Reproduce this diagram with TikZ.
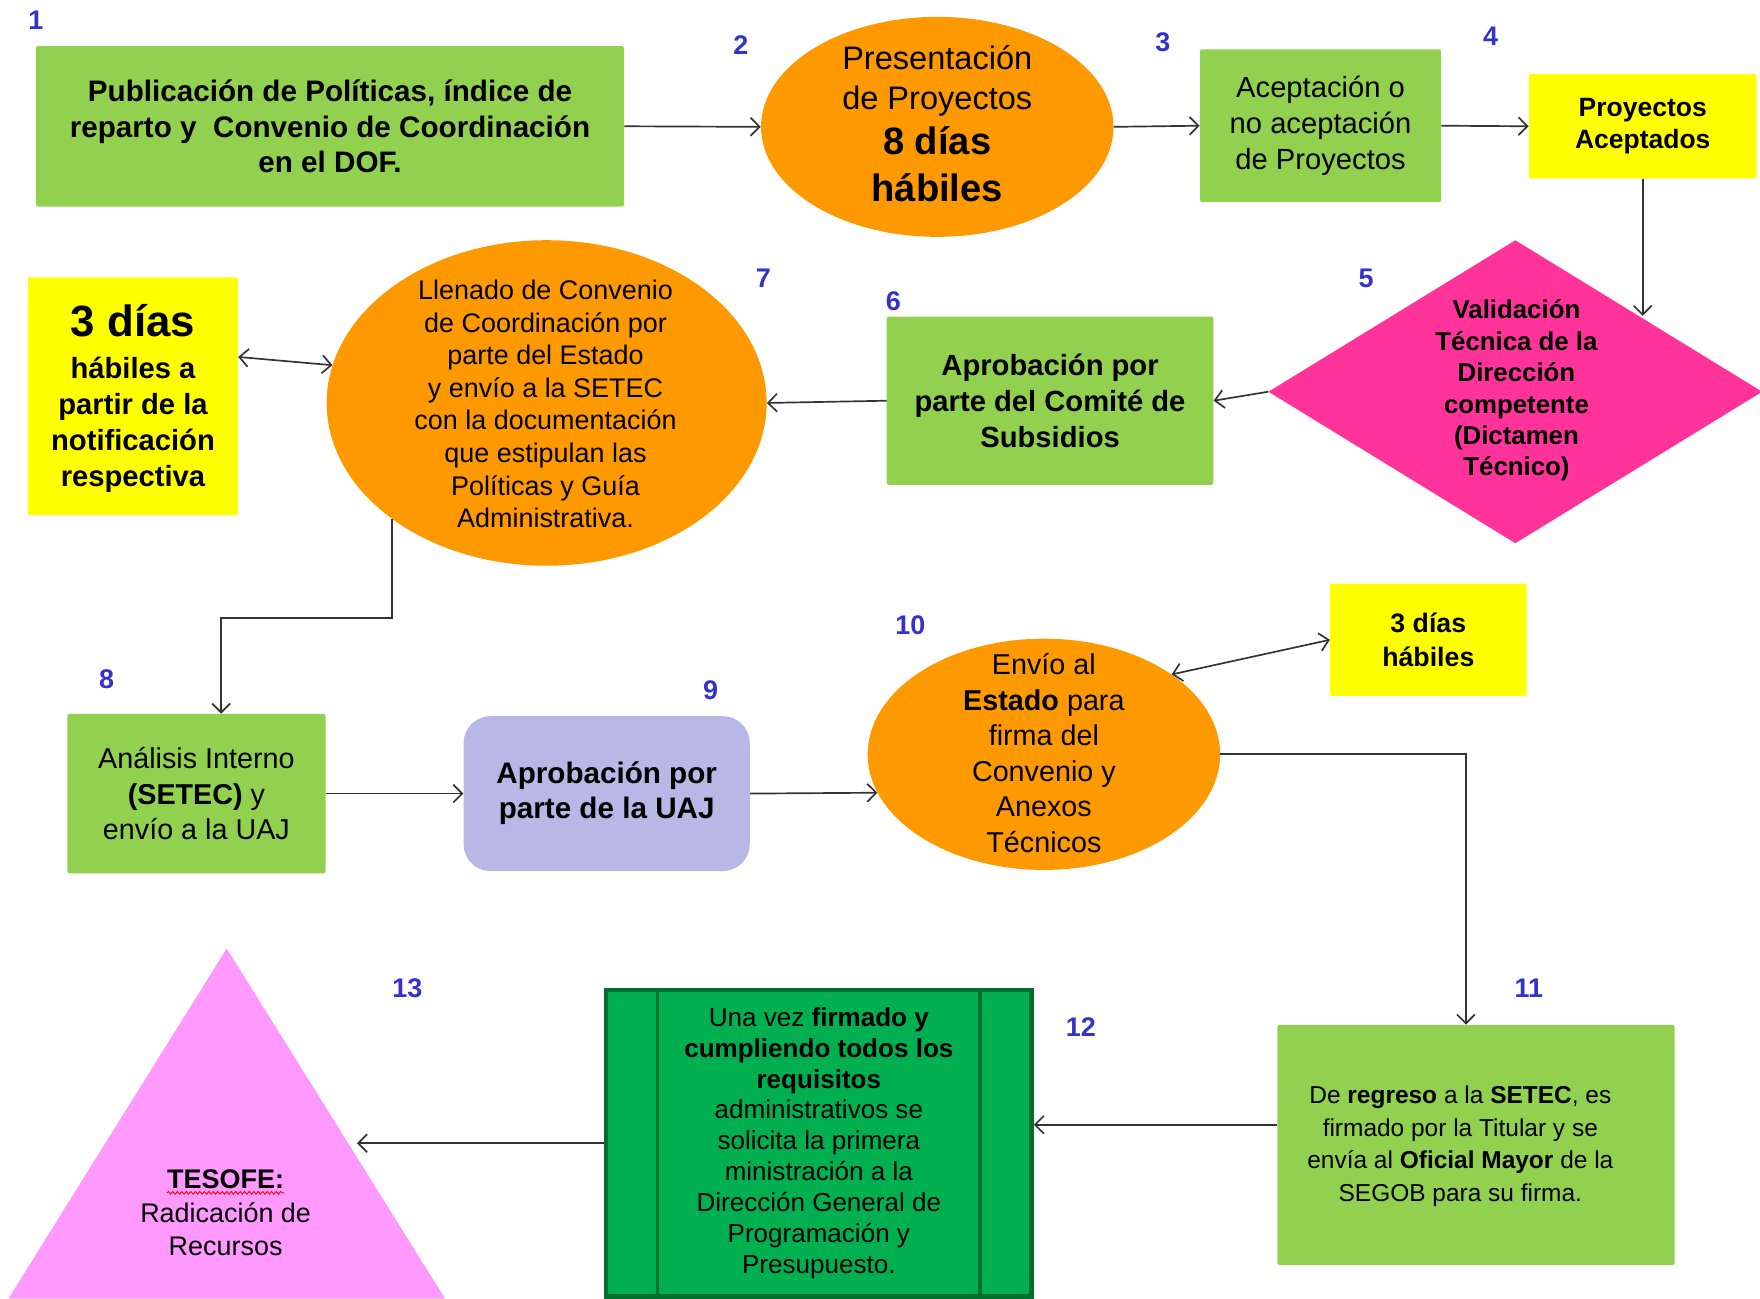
\documentclass[tikz,border=0pt]{standalone}
\usepackage{fontspec}
\setmainfont{Liberation Sans}
\usetikzlibrary{arrows.meta,shapes.geometric,calc,decorations.pathmorphing}
\definecolor{cgreen}{HTML}{92D050}
\definecolor{corange}{HTML}{FF9900}
\definecolor{cyellow}{HTML}{FFFF00}
\definecolor{cmag}{HTML}{FF3399}
\definecolor{clav}{HTML}{B8B8E6}
\definecolor{cpink}{HTML}{FF99FF}
\definecolor{cdkgreen}{HTML}{00B050}
\definecolor{cborder}{HTML}{00702E}
\definecolor{cblue}{HTML}{3333CC}
\definecolor{cline}{HTML}{333333}
\tikzset{
  box/.style={rectangle, fill=cgreen, rounded corners=2pt, inner sep=0pt, align=center, text=black},
  ybox/.style={rectangle, fill=cyellow, rounded corners=1pt, inner sep=0pt, align=center, text=black},
  oval/.style={ellipse, fill=corange, inner sep=0pt},
  txt/.style={inner sep=0pt, align=center, text=black},
  num/.style={inner sep=0pt, text=cblue, font=\fontsize{24}{24}\selectfont\bfseries},
  arr/.style={draw=cline, line width=1.5pt, -{Straight Barb[length=8pt,width=16pt,line width=1.5pt]}},
  dbl/.style={draw=cline, line width=1.5pt, {Straight Barb[length=8pt,width=16pt,line width=1.5pt]}-{Straight Barb[length=8pt,width=16pt,line width=1.5pt]}}
}
\begin{document}
\begin{tikzpicture}[x=1pt,y=-1pt]
\useasboundingbox (0,0) rectangle (1568,1157);
\fill[white] (0,0) rectangle (1568,1157);

% numbers
\node[num] (n1) at (32,18) {1};
\node[num] (n2) at (660,40) {2};
\node[num] (n3) at (1036,38) {3};
\node[num] (n4) at (1328,32) {4};
\node[num] (n5) at (1217,248) {5};
\node[num] (n6) at (796,268) {6};
\node[num] (n7) at (680,248) {7};
\node[num] (n8) at (95,605) {8};
\node[num] (n9) at (633,615) {9};
\node[num] (n10) at (811,557) {10};
\node[num] (n11) at (1362,880) {11};
\node[num] (n12) at (963,915) {12};
\node[num] (n13) at (363,880) {13};

% 1
\node[box, minimum width=524pt, minimum height=143pt, font=\fontsize{26.4}{32}\selectfont\bfseries] (b1) at (294,112.5)
 {Publicación de Políticas, índice de\\reparto y\ \ Convenio de Coordinación\\en el DOF.};
% 2
\node[oval, minimum width=314pt, minimum height=196pt] (e2) at (835,113) {};
\node[txt, font=\fontsize{29}{36}\selectfont] (e2t) at (835,110)
 {Presentación\\de Proyectos\\[4pt]{\fontsize{34}{42}\selectfont\bfseries 8 días}\\[6pt]{\fontsize{34}{42}\selectfont\bfseries hábiles}};
% 3
\node[box, minimum width=215pt, minimum height=136pt, font=\fontsize{26}{32}\selectfont] (b3) at (1176.5,112)
 {Aceptación o\\no aceptación\\de Proyectos};
% 4
\node[ybox, minimum width=203pt, minimum height=93pt, font=\fontsize{23.6}{28}\selectfont\bfseries] (b4) at (1463.5,112.5)
 {Proyectos\\Aceptados};
% 5
\node[diamond, fill=cmag, minimum width=440pt, minimum height=270pt, inner sep=0pt] (d5) at (1350,349) {};
\node[txt, font=\fontsize{23}{28}\selectfont\bfseries] (d5t) at (1351,348)
 {Validación\\Técnica de la\\Dirección\\competente\\(Dictamen\\Técnico)};
% 6
\node[box, minimum width=291pt, minimum height=150pt, font=\fontsize{26}{32}\selectfont\bfseries] (b6) at (935.5,357)
 {Aprobación por\\parte del Comité de\\Subsidios};
% 7
\node[oval, minimum width=392pt, minimum height=290pt] (e7) at (487,359) {};
\node[txt, font=\fontsize{24}{29}\selectfont] (e7t) at (486,360)
 {Llenado de Convenio\\de Coordinación por\\parte del Estado\\y envío\ a la SETEC\\con la documentación\\que estipulan las\\Políticas y Guía\\Administrativa.};
% 3 dias (left)
\node[ybox, minimum width=187pt, minimum height=212pt] (y7) at (118.5,353) {};
\node[txt, font=\fontsize{26}{32}\selectfont\bfseries] (y7t) at (118.5,355)
 {{\fontsize{39}{39}\selectfont 3 días}\\[5pt]hábiles a\\partir de la\\notificación\\respectiva};
% 8
\node[box, minimum width=230pt, minimum height=142pt, font=\fontsize{25.6}{32}\selectfont] (b8) at (175,707)
 {Análisis Interno\\\textbf{(SETEC)} y\\envío\ a la UAJ};
% 9
\node[rectangle, fill=clav, rounded corners=24pt, minimum width=255pt, minimum height=138pt, inner sep=0pt, align=center, font=\fontsize{26.4}{31}\selectfont\bfseries] (r9) at (540.5,707)
 {Aprobación por\\parte de la UAJ};
% 10
\node[oval, minimum width=314pt, minimum height=206pt] (e10) at (930,672) {};
\node[txt, font=\fontsize{25.6}{31.6}\selectfont] (e10t) at (930,671)
 {Envío\ al\\\textbf{Estado} para\\firma del\\Convenio y\\Anexos\\Técnicos};
% 3 dias (right)
\node[ybox, minimum width=175pt, minimum height=100pt, font=\fontsize{23.8}{30}\selectfont\bfseries] (y10) at (1272.5,570)
 {3 días\\hábiles};
% 11
\node[box, minimum width=354pt, minimum height=214pt] (b11) at (1315,1020) {};
\node[txt, font=\fontsize{21.8}{29}\selectfont] (b11t) at (1301,1021)
 {De \textbf{regreso} a la \textbf{SETEC}, es\\firmado por la Titular y se\\envía al \textbf{Oficial Mayor} de la\\SEGOB para su firma.};
% 12
\node[rectangle, fill=cdkgreen, draw=cborder, line width=4pt, minimum width=379pt, minimum height=273pt, inner sep=0pt, align=center, text=black, font=\fontsize{23.2}{27.6}\selectfont] (b12) at (729.5,1018.5)
 {Una vez \textbf{firmado y}\\\textbf{cumpliendo todos los}\\\textbf{requisitos}\\administrativos se\\solicita la primera\\ministración a la\\Dirección General de\\Programación y\\Presupuesto.};
\draw[cborder, line width=3pt] ([xshift=48pt]b12.north west) -- ([xshift=48pt]b12.south west);
\draw[cborder, line width=3pt] ([xshift=-48pt]b12.north east) -- ([xshift=-48pt]b12.south east);
% 13
\fill[cpink] (202,845) -- (396.5,1157) -- (7.5,1157) -- cycle;
\coordinate (t13e) at (318,1018.5);
\node[txt, font=\fontsize{24}{29}\selectfont\bfseries] (t13a) at (201,1051) {TESOFE:};
\node[txt, font=\fontsize{24}{29}\selectfont] (t13b) at (201,1095) {Radicación de\\Recursos};
\draw[red, line width=0.8pt, decorate, decoration={snake, amplitude=1.2pt, segment length=4pt}]
 ([yshift=-3pt]t13a.south west) -- ([yshift=-3pt]t13a.south east);

% connectors
\draw[arr] (b1.east) -- (e2.west);
\draw[arr] (e2.east) -- (b3.west);
\draw[arr] (b3.east) -- (b4.west);
\draw[arr] (b4.south) -- (b4.south |- d5.north east);
\draw[arr] (d5.west) -- (b6.east);
\draw[arr] (b6.west) -- (e7.east);
\draw[dbl] ([yshift=35pt]y7.east) -- (e7.170);
\draw[arr] (e7.217) -- ++(0,88) -| ([xshift=22pt]b8.north);
\draw[arr] (b8.east) -- (r9.west);
\draw[arr] (r9.east) -- (e10.193);
\draw[dbl] (e10.32) -- (y10.west);
\draw[arr] (e10.east) -| ([xshift=-9pt]b11.north);
\draw[arr] ([yshift=18pt]b11.west) -- ([yshift=18pt]b11.west -| b12.east);
\draw[arr] (b12.west) -- (b12.west -| t13e);
\end{tikzpicture}
\end{document}
